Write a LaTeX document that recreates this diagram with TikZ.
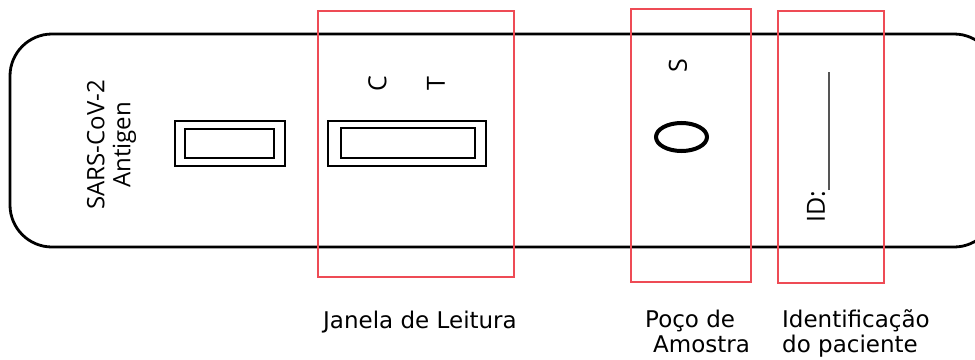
\documentclass[tikz,border=0pt]{standalone}
\usepackage{fontspec}
\setmainfont{DejaVu Sans}
\newfontfamily\devfont{Open Sans}
\definecolor{redline}{HTML}{EE4B55}
\definecolor{idline}{HTML}{555555}
\begin{document}
\begin{tikzpicture}[x=1pt,y=-1pt,
  outline/.style={draw=black, line width=2.8pt},
  winbox/.style={draw=black, line width=2.8pt},
  redbox/.style={draw=redline, line width=1.6pt},
  devtext/.style={inner sep=0pt, rotate=90, font=\devfont\fontsize{25}{21}\selectfont},
  label/.style={anchor=base west, inner sep=0pt, font=\fontsize{23}{25}\selectfont}]
\useasboundingbox (0,0) rectangle (975,359);
\clip (0,0) rectangle (975,359);
% device body
\draw[outline, rounded corners=42pt] (10,34) rectangle (996,247);
% small window
\draw[winbox] (175,121) rectangle (285,166);
\draw[winbox] (185,129) rectangle (274,158);
% reading window
\draw[winbox] (328,121) rectangle (486,166);
\draw[winbox] (341,128) rectangle (475,158);
% sample well
\draw[line width=4pt] (681.5,137) ellipse [x radius=25.5pt, y radius=14pt];
% ID line
\draw[idline, line width=1.5pt] (829,190) -- (829,72);
% device texts
\node[devtext, align=center, font=\devfont\fontsize{24}{26}\selectfont] (sars) at (111.5,145) {SARS-CoV-2\\Antigen};
\node[devtext] (c) at (377.5,83.5) {C};
\node[devtext] (t) at (436,83.5) {T};
\node[devtext] (s) at (678,66) {S};
\node[devtext] (id) at (816,207) {ID:};
% red boxes
\draw[redbox] (318,11) rectangle (514,277);
\draw[redbox] (631,9) rectangle (751,282);
\draw[redbox] (778,11) rectangle (884,283);
% labels
\node[label] (janela) at (323,328) {Janela de Leitura};
\node[label] (poco1) at (645,327) {Poço de};
\node[label] (poco2) at (653,352) {Amostra};
\node[label] (ident1) at (782,327) {Identificação};
\node[label] (ident2) at (782,352) {do paciente};
\end{tikzpicture}
\end{document}
